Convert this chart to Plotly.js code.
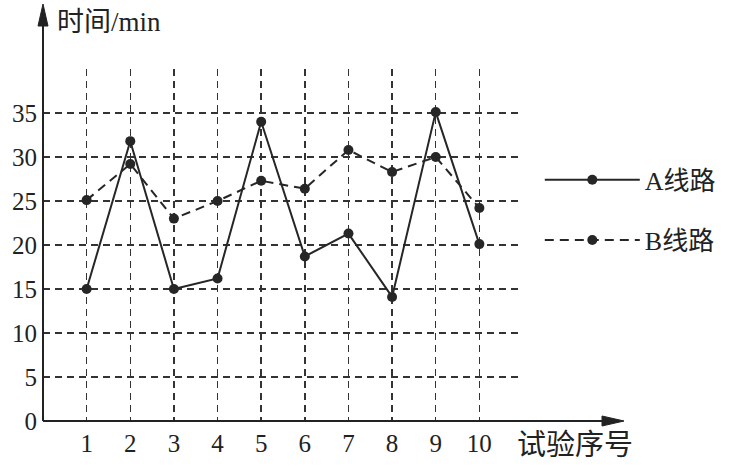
<!DOCTYPE html>
<html><head><meta charset="utf-8">
<script src="https://cdn.plot.ly/plotly-3.0.1.min.js"></script>
<style>html,body{margin:0;padding:0;background:#fff}</style>
</head><body><div id="chart" style="width:741px;height:466px"></div>
<script>
const trials = [1,2,3,4,5,6,7,8,9,10];
const routeA = [15, 31.8, 15, 16.2, 34, 18.7, 21.3, 14.1, 35.1, 20.1];
const routeB = [25.1, 29.2, 23, 25, 27.3, 26.4, 30.8, 28.3, 30, 24.2];
const xTickVals = [1,2,3,4,5,6,7,8,9,10,11];
const xTickText = ['1','2','3','4','5','6','7','8','9','10',''];
const yTickVals = [0,5,10,15,20,25,30,35,40];
const yTickText = ['0','5','10','15','20','25','30','35',''];
const nameA = 'A线路', nameB = 'B线路';
const yTitle = '时间/min', xTitle = '试验序号';

const ink = '#262626';
const serif = '"Liberation Serif", "Noto Sans CJK SC", serif';

const traces = [
  {x: trials, y: routeA, name: nameA, mode: 'lines+markers', legend: 'legend',
   line: {color: ink, width: 2}, marker: {color: ink, size: 10}},
  {x: trials, y: routeB, name: nameB, mode: 'lines+markers', legend: 'legend2',
   line: {color: ink, width: 2, dash: '9px,6px'}, marker: {color: ink, size: 10}}
];

const gridStyle = {showgrid: true, gridcolor: '#333', gridwidth: 1.5, griddash: '7px,5px'};
const legendCommon = {font: {family: serif, size: 26, color: '#222'}, bgcolor: 'rgba(0,0,0,0)',
  itemwidth: 95, xanchor: 'left', yanchor: 'middle', itemclick: false, borderwidth: 0};

const layout = {
  width: 741, height: 466,
  margin: {l: 43, r: 218, t: 69, b: 45},
  paper_bgcolor: '#fff', plot_bgcolor: '#fff',
  showlegend: true,
  title: {text: yTitle, x: 57/741, xanchor: 'left', y: 1 - 22/466, yanchor: 'middle',
          font: {family: serif, size: 27, color: '#222'}},
  xaxis: Object.assign({range: [0, 11], tickvals: xTickVals, ticktext: xTickText,
    showline: false, zeroline: false, ticks: '', fixedrange: true,
    tickfont: {family: serif, size: 25, color: '#222'}, ticklabelstandoff: 5}, gridStyle),
  yaxis: Object.assign({range: [0, 40], tickvals: yTickVals, ticktext: yTickText,
    showline: false, zeroline: false, ticks: '', fixedrange: true,
    tickfont: {family: serif, size: 25, color: '#222'}, ticklabelstandoff: 5}, gridStyle),
  legend: Object.assign({x: 1.035, y: 0.685}, legendCommon),
  legend2: Object.assign({x: 1.035, y: 0.514}, legendCommon),
  annotations: [
    {text: xTitle, xref: 'paper', yref: 'paper', x: 1.0 + (515-523)/480, y: -(445-421)/352,
     xanchor: 'left', yanchor: 'middle', showarrow: false,
     font: {family: serif, size: 29, color: '#222'}}
  ],
  shapes: [
    {type: 'line', xref: 'paper', yref: 'paper', x0: 0, y0: 0, x1: (610-43)/480, y1: 0,
     line: {color: '#222', width: 2}, layer: 'above'},
    {type: 'path', xref: 'paper', yref: 'paper',
     path: 'M ' + (624-43)/480 + ' 0 L ' + (602-43)/480 + ' ' + (5/352) + ' L ' + (602-43)/480 + ' ' + (-5/352) + ' Z',
     fillcolor: '#222', line: {color: '#222', width: 1}, layer: 'above'},
    {type: 'line', xref: 'paper', yref: 'paper', x0: 0, y0: 0, x1: 0, y1: (421-18)/352,
     line: {color: '#222', width: 2}, layer: 'above'},
    {type: 'path', xref: 'paper', yref: 'paper',
     path: 'M 0 ' + (421-4)/352 + ' L ' + (-5/480) + ' ' + (421-26)/352 + ' L ' + (5/480) + ' ' + (421-26)/352 + ' Z',
     fillcolor: '#222', line: {color: '#222', width: 1}, layer: 'above'}
  ]
};

Plotly.newPlot('chart', traces, layout, {displayModeBar: false, staticPlot: true});
</script>
</body></html>
